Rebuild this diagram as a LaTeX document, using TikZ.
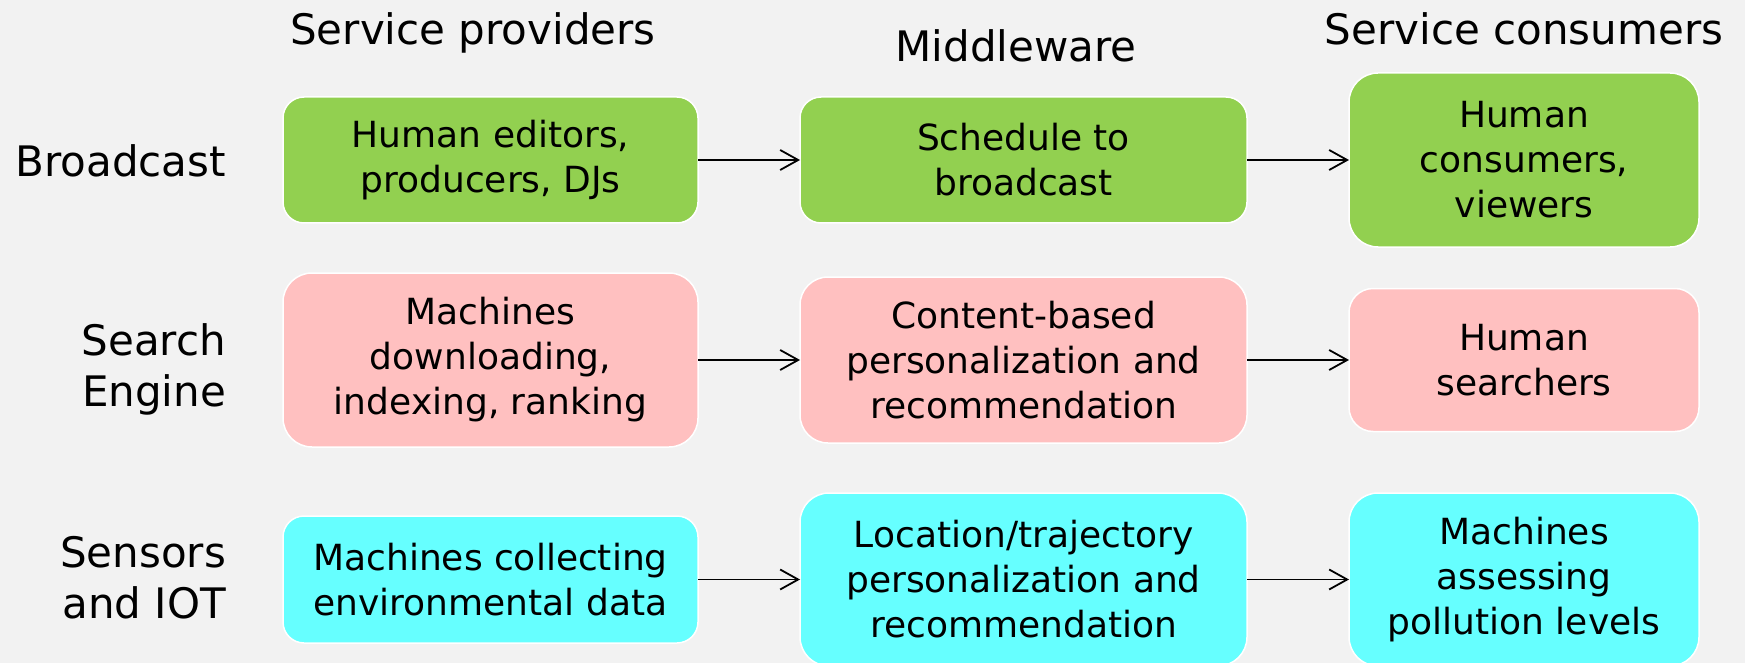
\documentclass[tikz,border=0pt]{standalone}
\usepackage{fontspec}
\setmainfont{DejaVu Sans}
\usetikzlibrary{arrows.meta}
\definecolor{bgc}{HTML}{F2F2F2}
\definecolor{greenc}{HTML}{92D050}
\definecolor{pinkc}{HTML}{FFC0C0}
\definecolor{cyanc}{HTML}{66FFFF}
\tikzset{
  box/.style={draw=white, line width=1.5pt, align=center, inner sep=0pt, outer sep=0pt,
    font=\fontsize{36pt}{45pt}\selectfont},
  bigtext/.style={inner sep=0pt, outer sep=0pt, font=\fontsize{42pt}{51pt}\selectfont},
  arr/.style={line width=1.8pt, -{Straight Barb[length=18pt,width=20pt,line width=1.8pt]}},
}
\begin{document}
\begin{tikzpicture}[x=1pt,y=-1pt]
\useasboundingbox (0,0) rectangle (1745,663);
\clip (0,0) rectangle (1745,663);
\fill[bgc] (0,0) rectangle (1745,663);

% headers
\node[bigtext, anchor=base] (hp) at (473,45) {Service providers};
\node[bigtext, anchor=base] (hm) at (1016,62) {Middleware};
\node[bigtext, anchor=base] (hc) at (1524,45) {Service consumers};

% row labels
\node[bigtext, anchor=east, align=right] (r1) at (226,160.5) {Broadcast};
\node[bigtext, anchor=east, align=right] (r2) at (226,369.5) {Search\\Engine};
\node[bigtext, anchor=east, align=right] (r3) at (226,577.7) {Sensors\\and IOT};

% row 1
\node[box, fill=greenc, minimum width=415pt, minimum height=126pt, rounded corners=21pt] (a1) at (490.5,160) {Human editors,\\producers, DJs};
\node[box, fill=greenc, minimum width=447pt, minimum height=126pt, rounded corners=21pt] (b1) at (1023.5,160) {Schedule to\\broadcast};
\node[box, fill=greenc, minimum width=350pt, minimum height=174pt, rounded corners=29pt] (c1) at (1524,160) {Human\\consumers,\\viewers};

% row 2
\node[box, fill=pinkc, minimum width=415pt, minimum height=174pt, rounded corners=29pt] (a2) at (490.5,360) {Machines\\downloading,\\indexing, ranking};
\node[box, fill=pinkc, minimum width=447pt, minimum height=166pt, rounded corners=28pt] (b2) at (1023.5,360) {Content-based\\personalization and\\recommendation};
\node[box, fill=pinkc, minimum width=350pt, minimum height=143pt, rounded corners=24pt] (c2) at (1524,360) {Human\\searchers};

% row 3
\node[box, fill=cyanc, minimum width=415pt, minimum height=127pt, rounded corners=21pt] (a3) at (490.5,579.5) {Machines collecting\\environmental data};
\node[box, fill=cyanc, minimum width=447pt, minimum height=173pt, rounded corners=29pt] (b3) at (1023.5,579.5) {Location/trajectory\\personalization and\\recommendation};
\node[box, fill=cyanc, minimum width=350pt, minimum height=173pt, rounded corners=29pt] (c3) at (1524,579.5) {Machines\\assessing\\pollution levels};

% arrows
\draw[arr] (a1) -- (b1);
\draw[arr] (b1) -- (c1);
\draw[arr] (a2) -- (b2);
\draw[arr] (b2) -- (c2);
\draw[arr] (a3) -- (b3);
\draw[arr] (b3) -- (c3);
\end{tikzpicture}
\end{document}
